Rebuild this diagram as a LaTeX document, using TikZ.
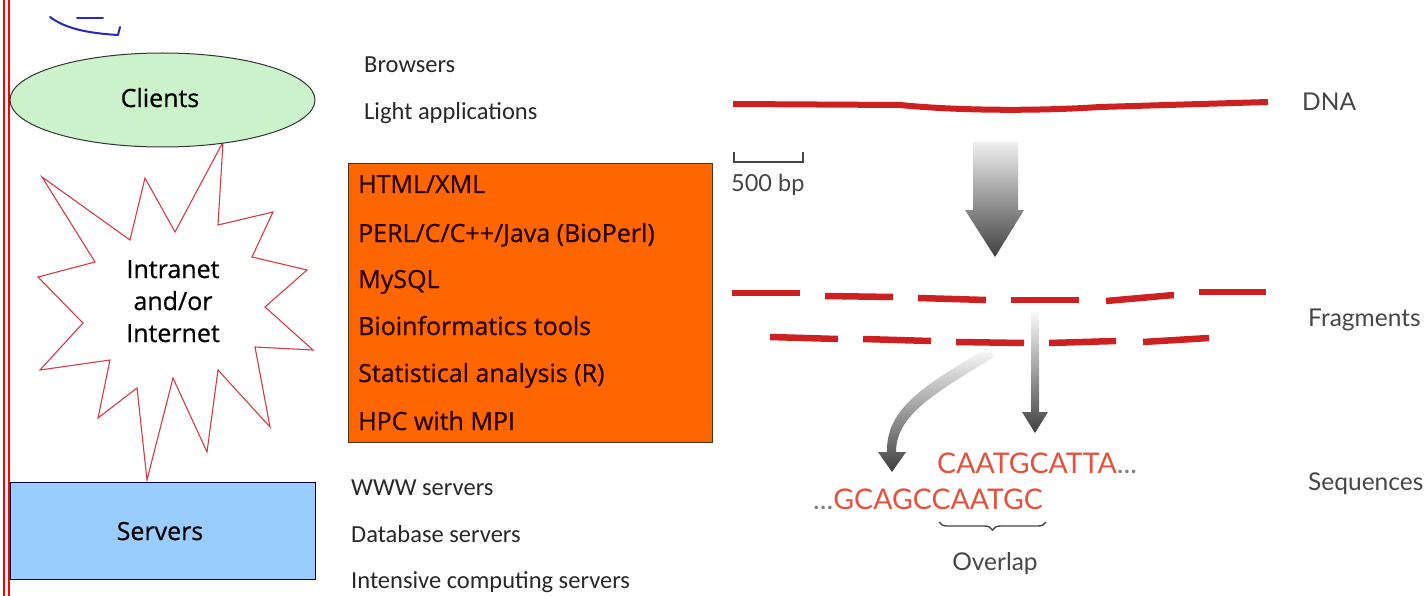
\documentclass[tikz,border=0pt]{standalone}
\usepackage{fontspec}
\setmainfont{Carlito}
\newfontfamily\comic[FakeBold=0.6]{Open Sans}
\newfontfamily\gill{Lato}
\usetikzlibrary{shapes.geometric,decorations.pathreplacing}
\definecolor{clientgreen}{RGB}{204,242,204}
\definecolor{serverblue}{RGB}{153,204,255}
\definecolor{techorange}{RGB}{255,102,0}
\definecolor{starred}{RGB}{210,60,70}
\definecolor{dnared}{RGB}{205,32,32}
\definecolor{seqred}{RGB}{228,82,62}
\definecolor{labgray}{RGB}{70,70,70}
\definecolor{txtgray}{RGB}{40,40,40}
\definecolor{scribble}{RGB}{40,40,190}
\tikzset{
  listtxt/.style={anchor=base west,inner sep=0,text=txtgray,font=\fontsize{24.5}{27}\selectfont},
  techtxt/.style={anchor=base west,inner sep=0,text=black!85!red,font=\comic\fontsize{25}{28}\selectfont},
  comictxt/.style={inner sep=0,font=\comic\fontsize{25}{28}\selectfont},
  lab/.style={anchor=base west,inner sep=0,text=labgray,font=\gill\fontsize{24.5}{27}\selectfont},
  seq/.style={anchor=base west,inner sep=0,text=seqred,font=\gill\fontsize{28.5}{30}\selectfont},
  frag/.style={dnared,line width=6.5pt},
}
\begin{document}
\begin{tikzpicture}[x=1pt,y=-1pt]
\useasboundingbox (0,0) rectangle (1426,596);
\fill[white] (0,0) rectangle (1426,596);
% left red double border
\draw[red,line width=2pt] (4,0) -- (4,596);
\draw[red,line width=2pt] (9,0) -- (9,596);
% blue scribble
\draw[scribble,line width=2pt,line cap=round,line join=round]
  (50,17) .. controls (65,28) and (85,33) .. (118,35) -- (120,27);
\draw[scribble,line width=2pt,line cap=round] (77,18) -- (103,18);
% star
\draw[starred,line width=1.1pt,fill=white,line join=miter]
  (223,142) -- (218,225) -- (273,212) -- (252,257) -- (307,270) -- (265,307)
  -- (313,350) -- (255,347) -- (270,427) -- (218,370) -- (207,452) -- (173,378)
  -- (147,480) -- (137,388) -- (98,418) -- (110,360) -- (40,370) -- (83,323)
  -- (38,277) -- (95,262) -- (42,177) -- (130,240) -- (145,178) -- (175,232) -- cycle;
\node[comictxt,anchor=base] (net1) at (173,278) {Intranet};
\node[comictxt,anchor=base] (net2) at (173,310) {and/or};
\node[comictxt,anchor=base] (net3) at (173,342) {Internet};
% clients
\node[ellipse,draw=black!80,line width=1pt,fill=clientgreen,minimum width=305pt,minimum height=94pt,inner sep=0] (clients) at (162.5,100) {};
\node[comictxt,anchor=base] (clientslab) at (160,107) {Clients};
% servers
\node[draw=black!75!blue,line width=1pt,fill=serverblue,minimum width=305pt,minimum height=97pt,inner sep=0] (servers) at (162.5,530.5) {};
\node[comictxt,anchor=base] (serverslab) at (160,540) {Servers};
% left lists
\node[listtxt] (b1) at (364,73) {Browsers};
\node[listtxt] (b2) at (364,120) {Light applications};
\node[listtxt] (s1) at (351,495) {WWW servers};
\node[listtxt] (s2) at (351,542) {Database servers};
\node[listtxt] (s3) at (351,588) {Intensive computing servers};
% orange box
\node[draw=black!60!brown,line width=1pt,fill=techorange,minimum width=364pt,minimum height=278pt,inner sep=0] (tech) at (530,303) {};
\node[techtxt] (t1) at (358,193) {HTML/XML};
\node[techtxt] (t2) at (358,242) {PERL/C/C++/Java (BioPerl)};
\node[techtxt] (t3) at (358,288) {MySQL};
\node[techtxt] (t4) at (358,335) {Bioinformatics tools};
\node[techtxt] (t5) at (358,382) {Statistical analysis (R)};
\node[techtxt] (t6) at (358,430) {HPC with MPI};
% DNA
\draw[dnared,line width=6pt] (733,104) -- (900,105) .. controls (960,111) and (1040,111) .. (1100,107) -- (1268,102);
\node[lab] (dna) at (1302,111) {DNA};
% scale bar
\draw[labgray,line width=1.5pt] (734,152) -- (734,162) -- (803,162) -- (803,152);
\node[lab,font=\gill\fontsize{23.5}{25}\selectfont] (bp) at (731,192) {500 bp};
% big arrow
\shade[top color=gray!12,bottom color=black!75]
  (973,142) -- (1018,142) -- (1018,210) -- (1024,210) -- (995,257) -- (965,210) -- (973,210) -- cycle;
% fragments row 1
\draw[frag] (732,293) -- (800,293);
\draw[frag] (825,296) -- (893,297);
\draw[frag] (918,298) -- (986,300);
\draw[frag] (1011,300) -- (1079,300);
\draw[frag] (1106,301) -- (1174,295);
\draw[frag] (1199,292) -- (1266,292);
% fragments row 2
\draw[frag] (770,337) -- (838,339);
\draw[frag] (863,339) -- (931,341);
\draw[frag] (956,342) -- (1024,343);
\draw[frag] (1049,343) -- (1116,341);
\draw[frag] (1143,342) -- (1209,338);
\node[lab] (frags) at (1308,326) {Fragments};
% straight thin arrow
\shade[top color=gray!5,bottom color=black!75]
  (1031,312) -- (1039,312) -- (1039,412) -- (1048,412) -- (1035,433) -- (1022,412) -- (1031,412) -- cycle;
% curved thin arrow
\shade[top color=gray!3,bottom color=black!75]
  (987,348) .. controls (925,385) and (886,408) .. (887,452) -- (878,452) -- (892,472) -- (906,452) -- (896,452)
  .. controls (896,415) and (935,393) .. (994,357) -- cycle;
% sequences
\node[seq] (seqa) at (937,473) {CAATGCATTA\textcolor{gray}{...}};
\node[seq] (seqb) at (813,509) {\textcolor{gray}{...}GCAGCCAATGC};
\draw[decorate,decoration={brace,mirror,amplitude=8pt},labgray,line width=1.4pt] (939,522) -- (1046,522);
\node[lab,anchor=base] (ovl) at (995,570) {Overlap};
\node[lab] (seqlab) at (1308,490) {Sequences};
\end{tikzpicture}
\end{document}
